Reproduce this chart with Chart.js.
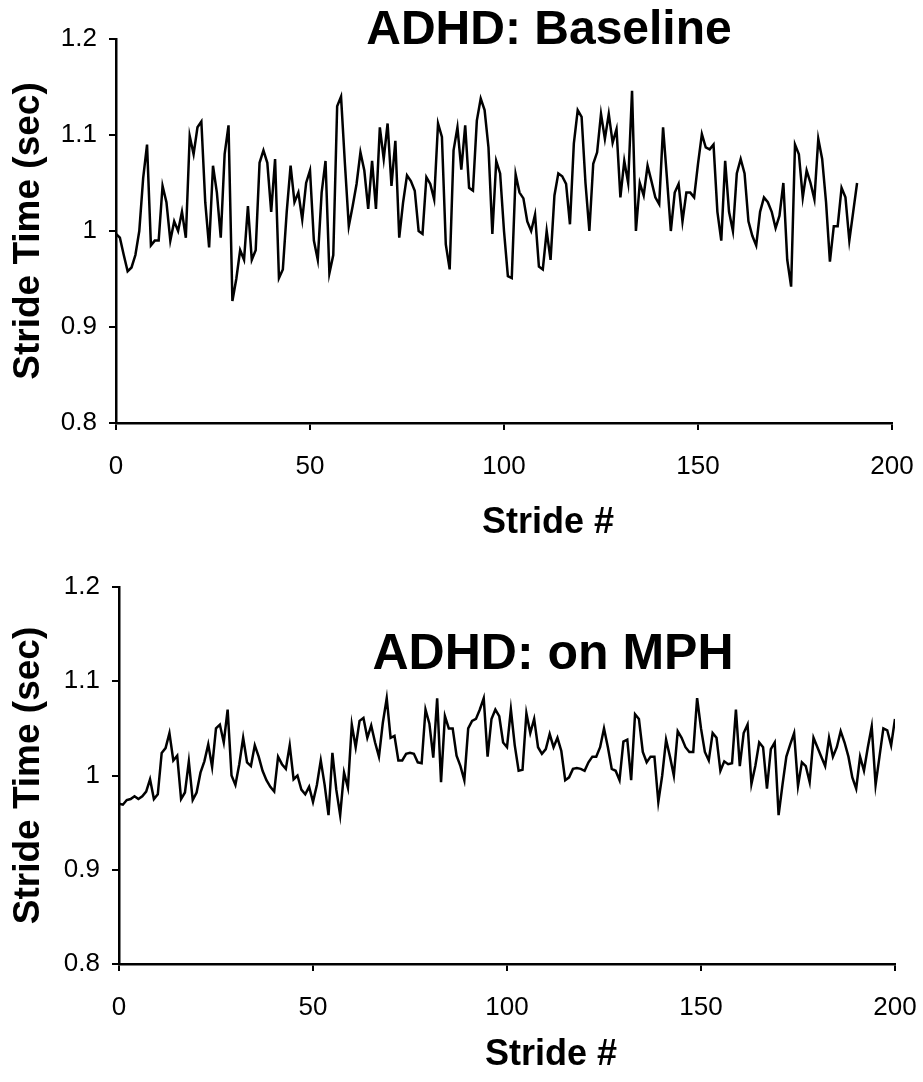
<!DOCTYPE html>
<html>
<head>
<meta charset="utf-8">
<script src="https://cdn.jsdelivr.net/npm/chart.js@4.4.1/dist/chart.umd.min.js"></script>
<style>
  html, body { margin: 0; padding: 0; background: #fff; }
  canvas { display: block; }
</style>
</head>
<body>
<canvas id="baselineChart" width="923" height="545"></canvas>
<canvas id="mphChart" width="923" height="537"></canvas>
<script>
// stride time (sec), one value per stride, index = stride #
const baselineStride = [
  0.997, 0.993, 0.975, 0.958, 0.962, 0.975, 1.000, 1.055, 1.090, 0.985,
  0.990, 0.990, 1.047, 1.030, 0.990, 1.010, 1.000, 1.020, 0.993, 1.099,
  1.080, 1.108, 1.114, 1.030, 0.983, 1.068, 1.040, 0.993, 1.080, 1.110,
  0.927, 0.950, 0.980, 0.970, 1.026, 0.970, 0.980, 1.071, 1.084, 1.071,
  1.020, 1.075, 0.951, 0.960, 1.020, 1.068, 1.030, 1.040, 1.012, 1.050,
  1.063, 0.990, 0.970, 1.040, 1.073, 0.956, 0.975, 1.130, 1.140, 1.070,
  1.005, 1.026, 1.049, 1.082, 1.063, 1.023, 1.073, 1.023, 1.108, 1.075,
  1.112, 1.047, 1.094, 0.993, 1.030, 1.058, 1.052, 1.042, 1.000, 0.997,
  1.056, 1.049, 1.033, 1.112, 1.098, 0.986, 0.960, 1.084, 1.108, 1.064,
  1.110, 1.045, 1.042, 1.115, 1.138, 1.126, 1.087, 0.997, 1.073, 1.060,
  1.000, 0.953, 0.951, 1.059, 1.040, 1.034, 1.010, 1.000, 1.017, 0.963,
  0.960, 1.000, 0.970, 1.037, 1.060, 1.057, 1.049, 1.007, 1.091, 1.126,
  1.119, 1.050, 1.000, 1.070, 1.082, 1.122, 1.096, 1.122, 1.092, 1.106,
  1.035, 1.073, 1.050, 1.146, 1.000, 1.050, 1.037, 1.068, 1.052, 1.035,
  1.028, 1.108, 1.055, 1.000, 1.040, 1.049, 1.010, 1.040, 1.040, 1.035,
  1.070, 1.101, 1.087, 1.085, 1.090, 1.020, 0.990, 1.073, 1.020, 1.000,
  1.060, 1.075, 1.060, 1.010, 0.995, 0.985, 1.020, 1.035, 1.030, 1.020,
  1.003, 1.016, 1.050, 0.970, 0.942, 1.090, 1.080, 1.035, 1.063, 1.050,
  1.033, 1.096, 1.075, 1.030, 0.968, 1.005, 1.005, 1.045, 1.035, 0.990,
  1.020, 1.050
];

const mphStride = [
  0.970, 0.969, 0.974, 0.975, 0.978, 0.975, 0.978, 0.983, 0.996, 0.975,
  0.980, 1.024, 1.029, 1.045, 1.016, 1.021, 0.975, 0.982, 1.015, 0.974,
  0.982, 1.003, 1.015, 1.033, 1.009, 1.050, 1.054, 1.035, 1.070, 1.000,
  0.990, 1.012, 1.040, 1.014, 1.010, 1.032, 1.020, 1.005, 0.995, 0.988,
  0.983, 1.020, 1.012, 1.007, 1.032, 0.996, 1.000, 0.985, 0.980, 0.988,
  0.972, 0.990, 1.016, 0.990, 0.958, 1.024, 0.985, 0.958, 1.003, 0.987,
  1.054, 1.030, 1.058, 1.061, 1.040, 1.053, 1.035, 1.020, 1.056, 1.082,
  1.040, 1.042, 1.016, 1.016, 1.023, 1.024, 1.023, 1.014, 1.013, 1.070,
  1.055, 1.019, 1.082, 0.993, 1.063, 1.050, 1.050, 1.021, 1.010, 0.995,
  1.050, 1.058, 1.060, 1.070, 1.082, 1.020, 1.060, 1.070, 1.063, 1.035,
  1.030, 1.070, 1.032, 1.005, 1.006, 1.066, 1.045, 1.060, 1.030, 1.023,
  1.028, 1.044, 1.030, 1.040, 1.026, 0.995, 0.998, 1.007, 1.008, 1.007,
  1.005, 1.014, 1.020, 1.020, 1.030, 1.050, 1.030, 1.007, 1.005, 0.995,
  1.036, 1.038, 0.995, 1.065, 1.060, 1.025, 1.014, 1.020, 1.020, 0.972,
  1.000, 1.038, 1.020, 1.000, 1.047, 1.040, 1.030, 1.025, 1.025, 1.082,
  1.050, 1.025, 1.016, 1.045, 1.040, 1.005, 1.015, 1.012, 1.013, 1.070,
  1.010, 1.045, 1.054, 0.991, 1.010, 1.035, 1.030, 0.986, 1.028, 1.035,
  0.958, 0.990, 1.020, 1.033, 1.045, 0.989, 1.014, 1.010, 0.993, 1.040,
  1.030, 1.020, 1.010, 1.040, 1.020, 1.030, 1.047, 1.035, 1.020, 0.998,
  0.986, 1.020, 1.005, 1.030, 1.052, 0.990, 1.020, 1.050, 1.048, 1.032,
  1.060
];

const xTicks = [0, 50, 100, 150, 200];
const yTicks = [0.8, 0.9, 1, 1.1, 1.2];
const yTickLabels = ['0.8', '0.9', '1', '1.1', '1.2'];

const FONT = '"Liberation Sans", Arial, sans-serif';

// panel heading and x caption, placed off-centre like the original
const panelText = {
    id: 'panelText',
    afterDraw(chart, args, opts) {
        const ctx = chart.ctx;
        ctx.save();
        ctx.fillStyle = '#000';
        ctx.textAlign = 'center';
        ctx.textBaseline = 'middle';
        opts.items.forEach(t => {
            ctx.font = 'bold ' + t.size + 'px ' + FONT;
            ctx.fillText(t.text, t.x, t.y);
        });
        ctx.restore();
    }
};

function makeStrideChart(canvasId, values, cfg) {
    const ctx = document.getElementById(canvasId).getContext('2d');
    const canvasH = ctx.canvas.height;

    return new Chart(ctx, {
        type: 'line',
        data: {
            datasets: [{
                data: values.map((v, i) => ({ x: i, y: v })),
                borderColor: '#000',
                borderWidth: 2.5,
                pointRadius: 0,
                tension: 0,
                fill: false
            }]
        },
        options: {
            responsive: false,
            animation: false,
            layout: {
                padding: { left: 0, top: cfg.top, right: 923 - cfg.right, bottom: 0 }
            },
            plugins: {
                legend: { display: false },
                tooltip: { enabled: false },
                panelText: {
                    items: [
                        { text: cfg.title, x: cfg.titleX, y: cfg.titleY, size: cfg.titleSize },
                        { text: 'Stride #', x: cfg.xTitleX, y: cfg.xTitleY, size: 36 }
                    ]
                }
            },
            scales: {
                x: {
                    type: 'linear',
                    min: 0,
                    max: 200,
                    afterBuildTicks: s => { s.ticks = xTicks.map(v => ({ value: v })); },
                    afterFit: s => {
                        s.height = canvasH - cfg.bottom;
                        s.paddingLeft = 0;
                        s.paddingRight = 0;
                    },
                    ticks: {
                        color: '#000',
                        padding: 21,
                        font: { family: FONT, size: 26 }
                    },
                    grid: { drawOnChartArea: false, drawTicks: true, tickLength: 7, color: '#000', lineWidth: 2 },
                    border: { color: '#000', width: 2.5 },
                    title: { display: false }
                },
                y: {
                    min: 0.8,
                    max: 1.2,
                    afterBuildTicks: s => { s.ticks = yTicks.map(v => ({ value: v })); },
                    afterFit: s => {
                        s.width = cfg.left;
                        s.paddingTop = 0;
                        s.paddingBottom = 0;
                    },
                    ticks: {
                        color: '#000',
                        padding: 12,
                        font: { family: FONT, size: 26 },
                        callback: v => yTickLabels[yTicks.indexOf(v)]
                    },
                    grid: { drawOnChartArea: false, drawTicks: true, tickLength: 7, color: '#000', lineWidth: 2 },
                    border: { color: '#000', width: 2.5 },
                    title: {
                        display: true,
                        text: 'Stride Time (sec)',
                        color: '#000',
                        padding: { top: 7, bottom: 0 },
                        font: { family: FONT, size: 37, weight: 'bold' }
                    }
                }
            }
        },
        plugins: [panelText]
    });
}

makeStrideChart('baselineChart', baselineStride, {
    title: 'ADHD: Baseline', titleX: 549, titleY: 31, titleSize: 48,
    xTitleX: 548, xTitleY: 523,
    left: 116, right: 892, top: 39, bottom: 423
});

makeStrideChart('mphChart', mphStride, {
    title: 'ADHD: on MPH', titleX: 553, titleY: 110, titleSize: 50,
    xTitleX: 551, xTitleY: 510,
    left: 119, right: 895, top: 42, bottom: 419
});
</script>
</body>
</html>
